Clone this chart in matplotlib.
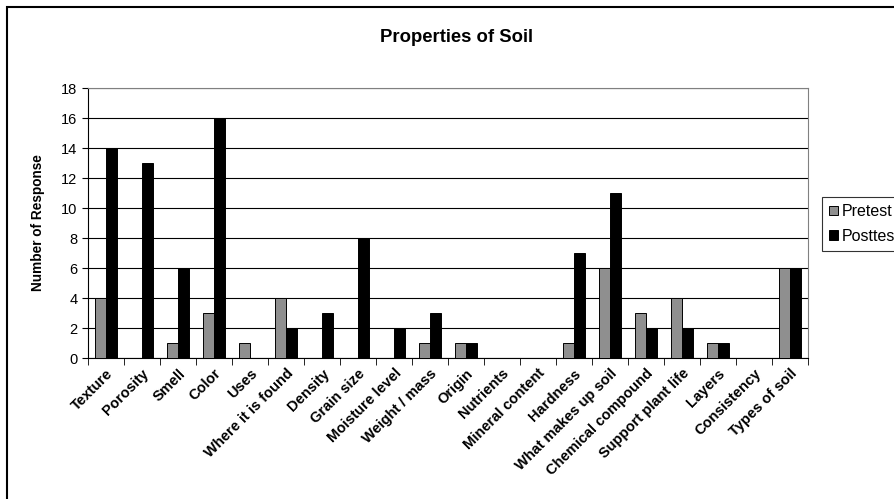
import numpy as np
import matplotlib
matplotlib.use('Agg')
import matplotlib.pyplot as plt
from matplotlib.patches import Rectangle

plt.rcParams['font.family'] = ['Liberation Sans', 'DejaVu Sans']

## soil property categories and response counts
categories = ['Texture', 'Porosity', 'Smell', 'Color', 'Uses', 'Where it is found',
              'Density', 'Grain size', 'Moisture level', 'Weight / mass', 'Origin',
              'Nutrients', 'Mineral content', 'Hardness', 'What makes up soil',
              'Chemical compound', 'Support plant life', 'Layers', 'Consistency',
              'Types of soil']
pretest = [4, 0, 1, 3, 1, 4, 0, 0, 0, 1, 1, 0, 0, 1, 6, 3, 4, 1, 0, 6]
posttest = [14, 13, 6, 16, 0, 2, 3, 8, 2, 3, 1, 0, 0, 7, 11, 2, 2, 1, 0, 6]
yticks = [0, 2, 4, 6, 8, 10, 12, 14, 16, 18]

fig = plt.figure(figsize=(8.94, 4.99), dpi=100)
# chart frame, runs off the right and bottom
fig.patches.append(Rectangle((7/894., -0.1), 1.2, 1 - 7/499. + 0.1,
                             transform=fig.transFigure, fill=False,
                             edgecolor='black', lw=1.5))

ax = fig.add_axes([88/894., 1 - 358/499., 720/894., 270/499.])
x = np.arange(len(categories))
w = 0.3
b1 = ax.bar(x - w/2, pretest, w, color='#8f8f8f', edgecolor='black', lw=0.7, zorder=3, label='Pretest')
b2 = ax.bar(x + w/2, posttest, w, color='black', edgecolor='black', lw=0.7, zorder=3, label='Posttest')

ax.set_xlim(-0.5, len(categories) - 0.5)
ax.set_ylim(0, 18)
ax.set_yticks(yticks)
ax.yaxis.grid(True, color='black', lw=0.8, zorder=0)
ax.set_axisbelow(True)

ax.set_xticks(x)
ax.set_xticklabels(categories, rotation=45, ha='right', rotation_mode='anchor',
                   fontsize=10.5, fontweight='bold')
ax.tick_params(axis='x', which='major', length=0, pad=6)
ax.set_xticks(np.arange(len(categories) + 1) - 0.5, minor=True)
ax.tick_params(axis='x', which='minor', length=5, direction='out', color='black')
ax.tick_params(axis='y', length=4, direction='out', labelsize=10.5, color='black')

for s in ['top', 'right']:
    ax.spines[s].set_color('#808080')
ax.spines['left'].set_color('black')
ax.spines['bottom'].set_color('black')

ax.set_ylabel('Number of Response', fontsize=9.8, fontweight='bold', labelpad=12)
fig.text(457/894., 1 - 37/499., 'Properties of Soil', ha='center', va='center',
         fontsize=13.3, fontweight='bold')

leg = fig.legend(handles=[b1, b2], loc='upper left', bbox_to_anchor=(822/894., 1 - 197/499.),
                 fontsize=11.5, frameon=True, fancybox=False, edgecolor='black',
                 handlelength=0.55, handleheight=0.55, handletextpad=0.25,
                 borderpad=0.45, labelspacing=0.6, borderaxespad=0)
leg.get_frame().set_linewidth(0.8)

fig.savefig('out.png', dpi=100)
